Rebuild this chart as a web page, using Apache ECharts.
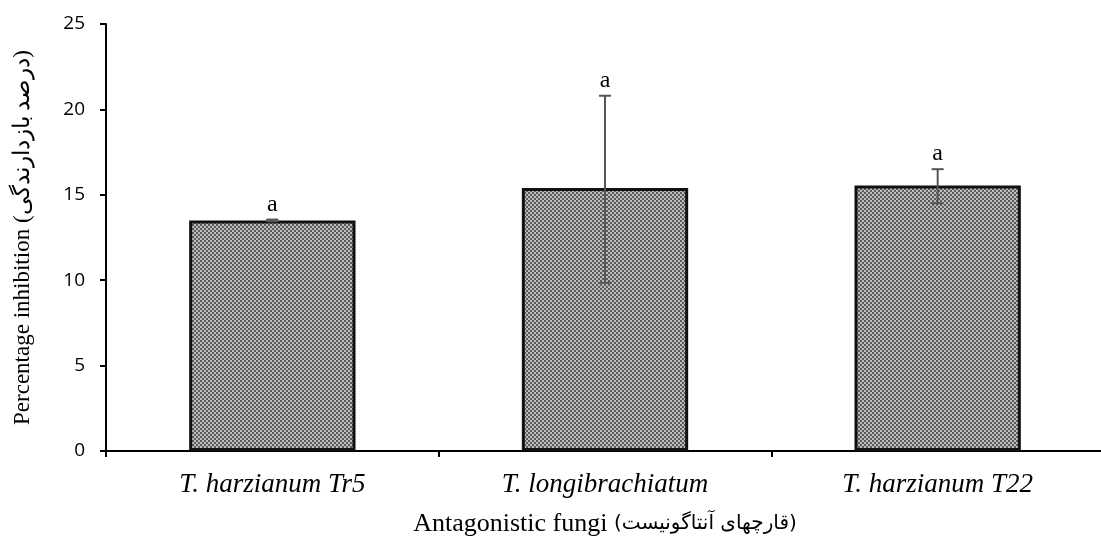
<!DOCTYPE html>
<html><head><meta charset="utf-8">
<script src="https://cdn.jsdelivr.net/npm/echarts@6/dist/echarts.min.js"></script>
<style>html,body{margin:0;padding:0;background:#fff}#c{width:1101px;height:538px}</style>
</head><body><div id="c"></div>
<script>
const categories = ['T. harzianum Tr5', 'T. longibrachiatum', 'T. harzianum T22'];
const values = [13.5, 15.4, 15.55];
const errLow = [13.45, 9.85, 14.5];
const errHigh = [13.55, 20.8, 16.5];
const letters = ['a', 'a', 'a'];
const yTicks = [0, 5, 10, 15, 20, 25];

const pc = document.createElement('canvas');
pc.width = 4; pc.height = 4;
const g = pc.getContext('2d');
g.fillStyle = '#bcbcbc'; g.fillRect(0,0,4,4);
g.fillStyle = '#5c5c5c';
g.fillRect(0,0,2,2); g.fillRect(2,2,2,2);

const chart = echarts.init(document.getElementById('c'));
chart.setOption({
  animation: false,
  grid: {left: 106, right: -3, top: 24, bottom: 87, containLabel: false, outerBoundsMode: 'none'},
  xAxis: {
    type: 'category', data: categories,
    axisLine: {lineStyle: {color: '#000', width: 2}},
    axisTick: {show: true, length: 6, lineStyle: {color: '#000', width: 2}},
    axisLabel: {fontFamily: 'Liberation Serif', fontStyle: 'italic', fontSize: 27, color: '#000', margin: 20},
    name: '{a|Antagonistic fungi }{b|(قارچهای آنتاگونیست)}',
    nameLocation: 'middle', nameGap: 60,
    nameTextStyle: {fontFamily: 'Liberation Serif', fontSize: 26, color: '#000',
      rich: {a: {fontFamily: 'Liberation Serif', fontSize: 26, color: '#000'},
             b: {fontFamily: 'DejaVu Sans', fontSize: 20, color: '#000'}}}
  },
  yAxis: {
    type: 'value', min: 0, max: 25, interval: 5,
    axisLine: {show: true, lineStyle: {color: '#000', width: 2}},
    axisTick: {show: true, length: 6, lineStyle: {color: '#000', width: 2}},
    splitLine: {show: false},
    axisLabel: {fontFamily: 'Open Sans', fontSize: 19, color: '#000', margin: 21,
      formatter: v => yTicks.includes(v) ? String(v) : ''},
    name: 'Percentage inhibition (درصد بازدارندگی)',
    nameLocation: 'middle', nameGap: 72,
    nameTextStyle: {fontFamily: 'Liberation Serif', fontSize: 23, color: '#000'}
  },
  series: [
    {
      type: 'bar', data: values, barWidth: '50%',
      itemStyle: {color: {image: pc, repeat: 'repeat'}, borderColor: '#111', borderWidth: 3}
    },
    {
      type: 'custom',
      data: categories.map((c, i) => [i, errLow[i], errHigh[i], values[i]]),
      renderItem: function (params, api) {
        const x = api.coord([api.value(0), 0])[0];
        const lo = api.coord([api.value(0), api.value(1)])[1];
        const hi = api.coord([api.value(0), api.value(2)])[1];
        const hw = 6;
        const children = [
          {type: 'line', shape: {x1: x, y1: lo, x2: x, y2: hi}, style: {stroke: '#555', lineWidth: 2}},
          {type: 'line', shape: {x1: x - hw, y1: hi, x2: x + hw, y2: hi}, style: {stroke: '#555', lineWidth: 2}},
          {type: 'line', shape: {x1: x - hw, y1: lo, x2: x + hw, y2: lo}, style: {stroke: '#555', lineWidth: 2}},
          {type: 'text', style: {text: letters[params.dataIndex], x: x, y: Math.min(hi, api.coord([0, api.value(3)])[1]) - 3,
            textAlign: 'center', textVerticalAlign: 'bottom', font: '24px "Liberation Serif"', fill: '#000'}}
        ];
        return {type: 'group', children: children};
      },
      z: 10
    }
  ]
});
</script></body></html>
